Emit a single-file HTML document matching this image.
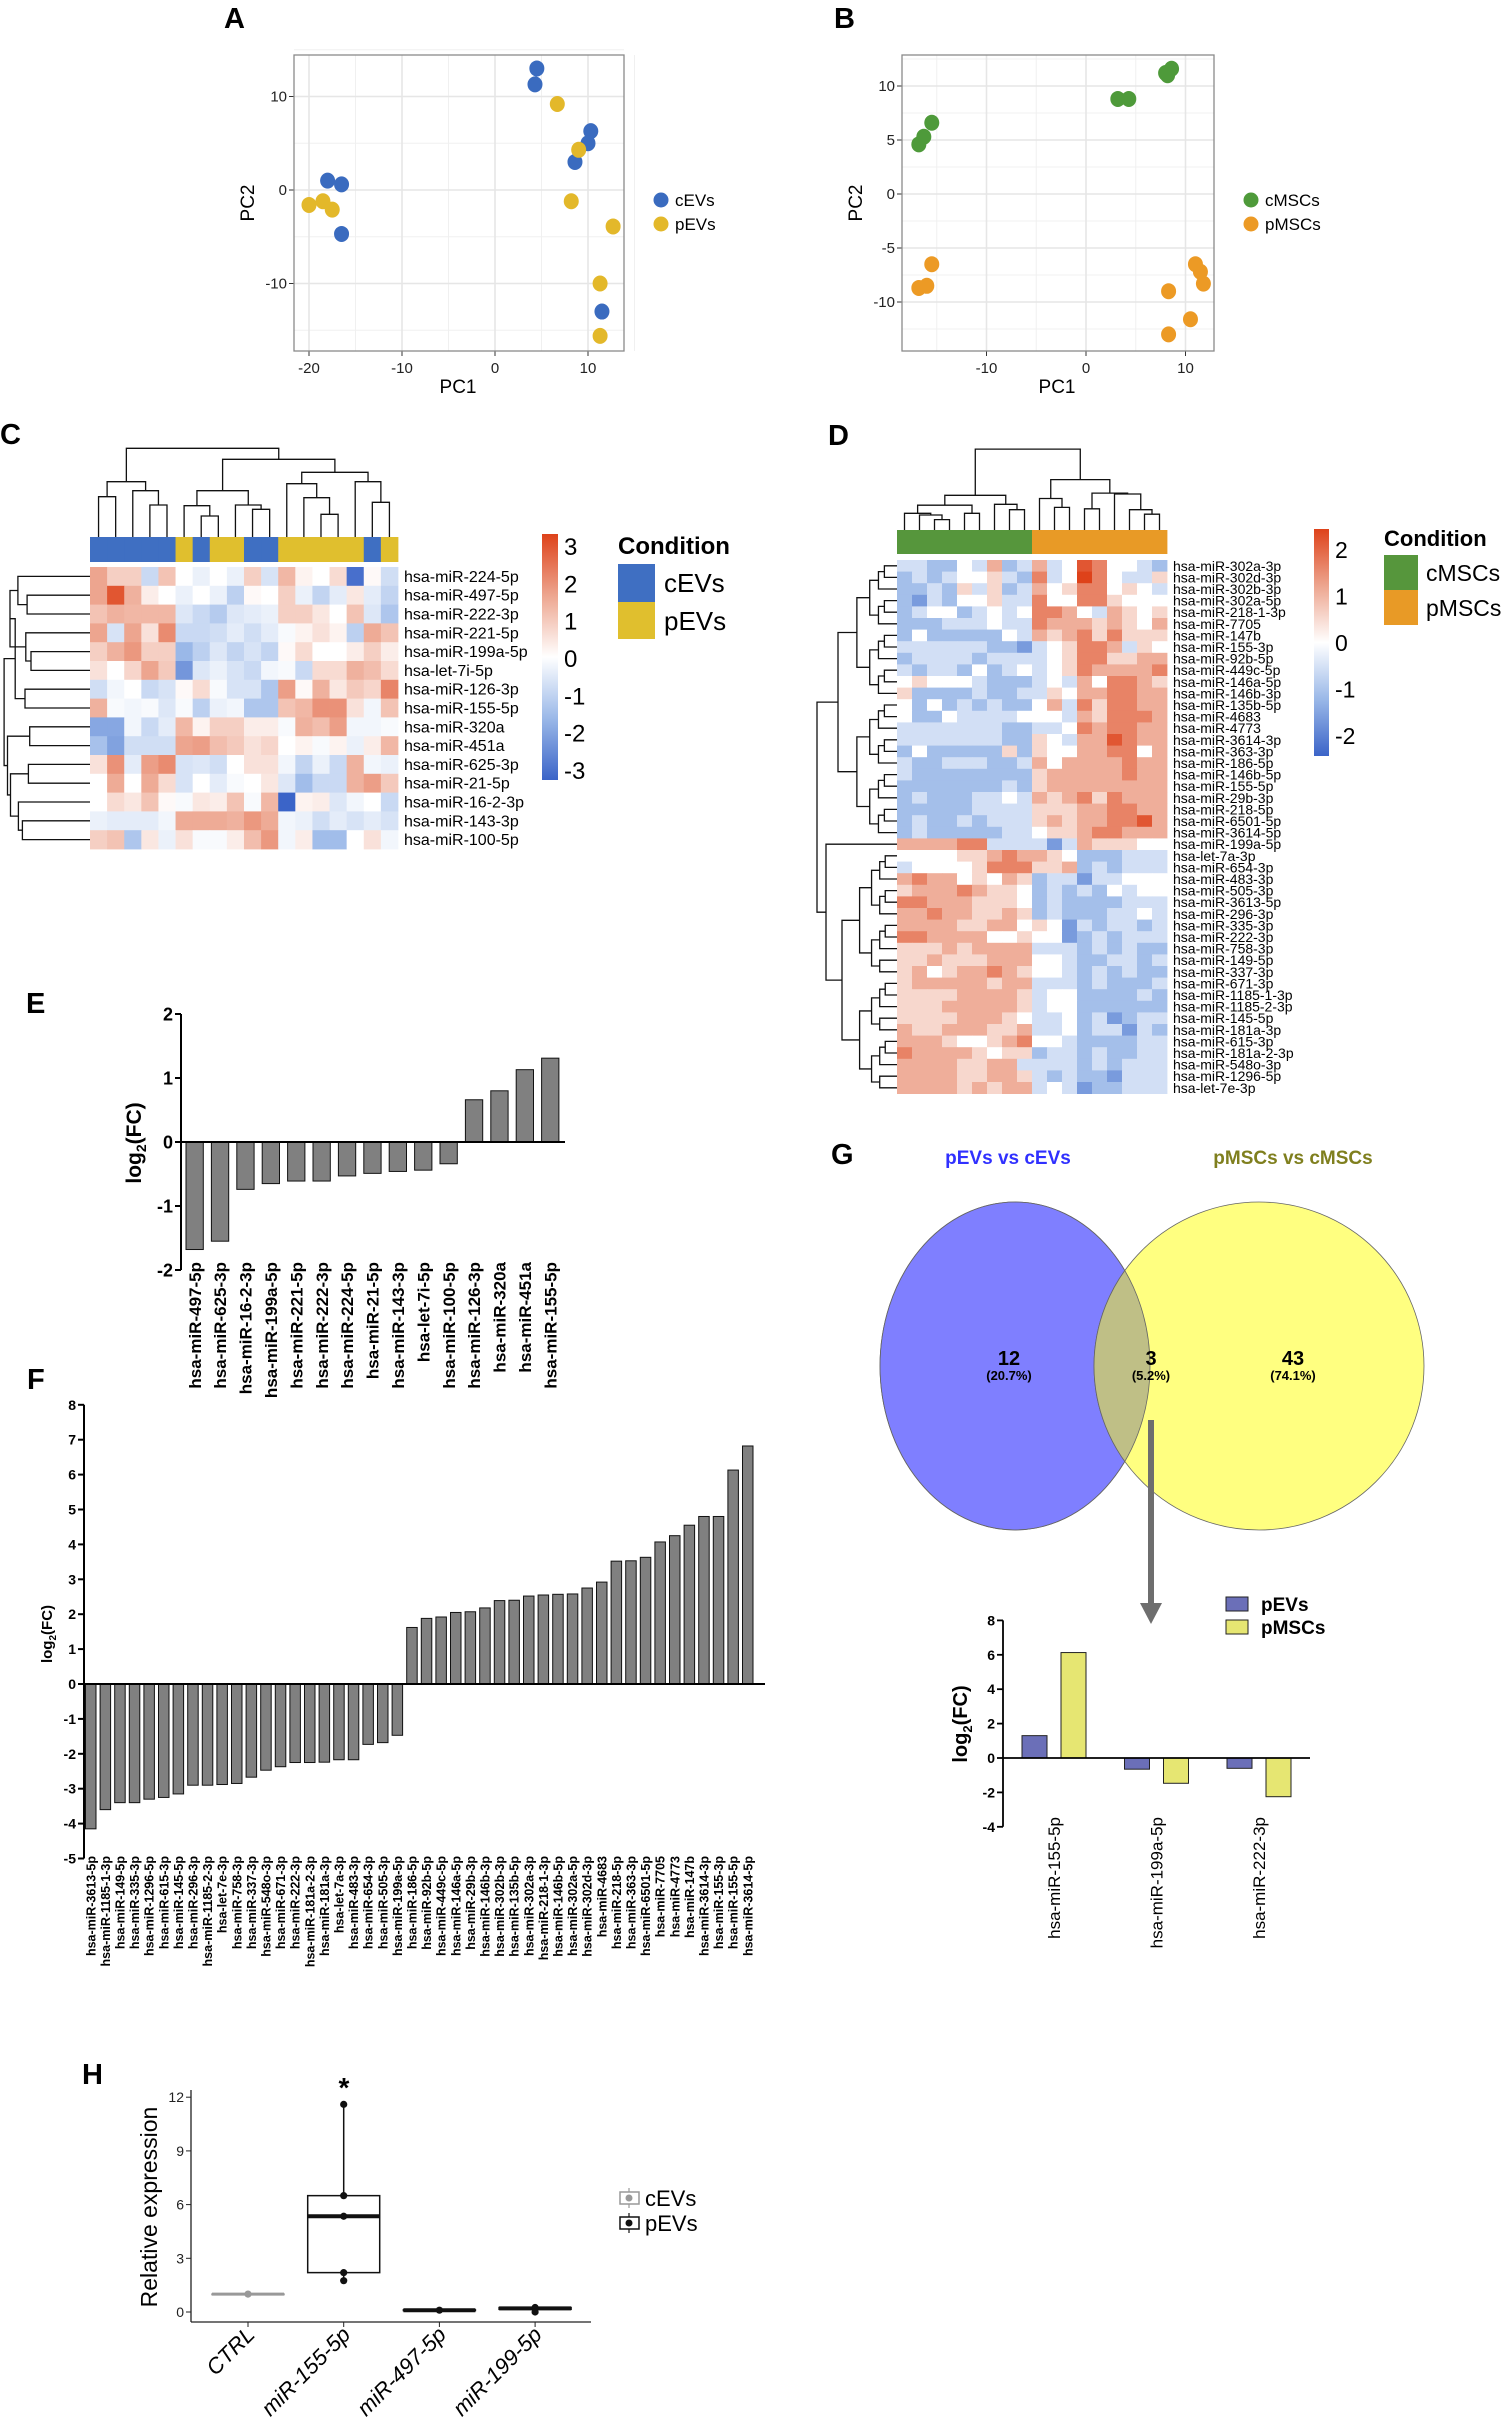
<!DOCTYPE html>
<html><head><meta charset="utf-8"><title>Figure</title>
<style>
html,body{margin:0;padding:0;background:#fff;}
svg{display:block;font-family:"Liberation Sans",Arial,sans-serif;}
.pl{font-weight:bold;font-size:29px;}
.tk{font-size:15px;fill:#222;}
.bt{font-weight:bold;}
</style></head>
<body>
<svg id="fig" width="1505" height="2431" viewBox="0 0 1505 2431" xmlns="http://www.w3.org/2000/svg">
<defs>
<linearGradient id="gradC" x1="0" y1="0" x2="0" y2="1">
<stop offset="0" stop-color="#de421a"/><stop offset="0.25" stop-color="#eda58f"/><stop offset="0.5" stop-color="#ffffff"/><stop offset="0.75" stop-color="#9ab8e8"/><stop offset="1" stop-color="#3b64c8"/>
</linearGradient>
<clipPath id="blueClip"><ellipse cx="1015" cy="1366" rx="135" ry="164"/></clipPath>
</defs>
<rect x="0" y="0" width="1505" height="2431" fill="#fff"/>

<text class="pl" x="224" y="28">A</text>
<text class="pl" x="834" y="28">B</text>
<text class="pl" x="0" y="444">C</text>
<text class="pl" x="828" y="445">D</text>
<text class="pl" x="26" y="1013">E</text>
<text class="pl" x="27" y="1389">F</text>
<text class="pl" x="831" y="1164">G</text>
<text class="pl" x="82" y="2084">H</text>

<!-- A axis titles & legend -->
<text x="458" y="393" font-size="19" text-anchor="middle">PC1</text>
<text x="0" y="0" font-size="19" text-anchor="middle" transform="translate(254,203) rotate(-90)">PC2</text>
<circle cx="661" cy="200" r="7.5" fill="#3a6bbf"/>
<text x="675" y="206" font-size="17">cEVs</text>
<circle cx="661" cy="224" r="7.5" fill="#e3b82a"/>
<text x="675" y="230" font-size="17">pEVs</text>
<!-- B -->
<text x="1057" y="393" font-size="19" text-anchor="middle">PC1</text>
<text x="0" y="0" font-size="19" text-anchor="middle" transform="translate(862,203) rotate(-90)">PC2</text>
<circle cx="1251" cy="200" r="7.5" fill="#4e9a3a"/>
<text x="1265" y="206" font-size="17">cMSCs</text>
<circle cx="1251" cy="224" r="7.5" fill="#ec9a25"/>
<text x="1265" y="230" font-size="17">pMSCs</text>

<!-- C legend -->
<rect x="542" y="534" width="16" height="246" fill="url(#gradC)"/>
<text x="618" y="554" font-size="24" font-weight="bold">Condition</text>
<rect x="618" y="564" width="37" height="38" fill="#3f6fc2"/>
<rect x="618" y="602" width="37" height="37" fill="#e0bf2e"/>
<text x="664" y="592" font-size="26">cEVs</text>
<text x="664" y="630" font-size="26">pEVs</text>
<!-- D legend -->
<rect x="1314" y="529" width="15" height="227" fill="url(#gradC)"/>
<text x="1384" y="546" font-size="22" font-weight="bold">Condition</text>
<rect x="1384" y="555" width="34" height="35" fill="#56963c"/>
<rect x="1384" y="590" width="34" height="35" fill="#e89a26"/>
<text x="1426" y="581" font-size="23">cMSCs</text>
<text x="1426" y="616" font-size="23">pMSCs</text>

<!-- E/F titles -->
<text x="0" y="0" font-size="21" font-weight="bold" text-anchor="middle" transform="translate(141,1143) rotate(-90)">log<tspan font-size="14" dy="5">2</tspan><tspan dy="-5">(FC)</tspan></text>
<text x="0" y="0" font-size="15" font-weight="bold" text-anchor="middle" transform="translate(52,1634) rotate(-90)">log<tspan font-size="10" dy="4">2</tspan><tspan dy="-4">(FC)</tspan></text>

<!-- G Venn -->
<text x="1008" y="1164" font-size="19" font-weight="bold" fill="#3030ff" text-anchor="middle">pEVs vs cEVs</text>
<text x="1293" y="1164" font-size="19" font-weight="bold" fill="#7f7f1e" text-anchor="middle">pMSCs vs cMSCs</text>
<ellipse cx="1015" cy="1366" rx="135" ry="164" fill="#7f7fff" stroke="#666" stroke-width="0.8"/>
<ellipse cx="1259" cy="1366" rx="165" ry="164" fill="#ffff80" stroke="#666" stroke-width="0.8"/>
<ellipse cx="1259" cy="1366" rx="165" ry="164" fill="#bfbf86" stroke="#666" stroke-width="0.8" clip-path="url(#blueClip)"/>
<ellipse cx="1015" cy="1366" rx="135" ry="164" fill="none" stroke="#666" stroke-width="0.8"/>
<text x="1009" y="1365" font-size="20" font-weight="bold" text-anchor="middle">12</text>
<text x="1009" y="1380" font-size="13" font-weight="bold" text-anchor="middle">(20.7%)</text>
<text x="1151" y="1365" font-size="20" font-weight="bold" text-anchor="middle">3</text>
<text x="1151" y="1380" font-size="13" font-weight="bold" text-anchor="middle">(5.2%)</text>
<text x="1293" y="1365" font-size="20" font-weight="bold" text-anchor="middle">43</text>
<text x="1293" y="1380" font-size="13" font-weight="bold" text-anchor="middle">(74.1%)</text>
<line x1="1151" y1="1420" x2="1151" y2="1606" stroke="#6e6e6e" stroke-width="6"/>
<polygon points="1140,1603 1162,1603 1151,1624" fill="#6e6e6e"/>
<rect x="1226" y="1597" width="22" height="14" fill="#6b6fb8" stroke="#222" stroke-width="1"/>
<rect x="1226" y="1620" width="22" height="14" fill="#e6e672" stroke="#222" stroke-width="1"/>
<text x="1261" y="1611" font-size="19" font-weight="bold">pEVs</text>
<text x="1261" y="1634" font-size="19" font-weight="bold">pMSCs</text>
<text x="0" y="0" font-size="20" font-weight="bold" text-anchor="middle" transform="translate(967,1724) rotate(-90)">log<tspan font-size="13" dy="5">2</tspan><tspan dy="-5">(FC)</tspan></text>

<!-- H -->
<text x="0" y="0" font-size="23" text-anchor="middle" transform="translate(157,2207) rotate(-90)">Relative expression</text>
<text x="344" y="2097" font-size="28" font-weight="bold" text-anchor="middle">*</text>
<g>
<line x1="629" y1="2188" x2="629" y2="2208" stroke="#999" stroke-width="1.2"/>
<rect x="620" y="2192" width="19" height="12" fill="#fff" stroke="#999" stroke-width="1.5"/>
<circle cx="629" cy="2198" r="3.5" fill="#999"/>
</g>
<g>
<line x1="629" y1="2213" x2="629" y2="2233" stroke="#111" stroke-width="1.2"/>
<rect x="620" y="2217" width="19" height="12" fill="#fff" stroke="#111" stroke-width="1.5"/>
<circle cx="629" cy="2223" r="3.5" fill="#111"/>
</g>
<text x="645" y="2206" font-size="22">cEVs</text>
<text x="645" y="2231" font-size="22">pEVs</text>
</svg>

<script>
// ---------- DATA ----------
// Panel A
const aXTicks=[-20,-10,0,10];
const aYTicks=[-10,0,10];
const cEVsX=[4.5,4.3,10.3,10.0,8.6,-18.0,-16.5,-16.5,11.5];
const cEVsY=[13.0,11.3,6.3,5.0,3.0,1.0,0.6,-4.7,-13.0];
const pEVsX=[6.7,9.0,8.2,12.7,-20.0,-18.5,-17.5,11.3,11.3];
const pEVsY=[9.2,4.3,-1.2,-3.9,-1.6,-1.2,-2.1,-10.0,-15.6];
// Panel B
const bXTicks=[-10,0,10];
const bYTicks=[-10,-5,0,5,10];
const cMSCsX=[8.0,8.6,8.2,3.2,4.3,-15.5,-16.3,-16.8];
const cMSCsY=[11.2,11.6,11.0,8.8,8.8,6.6,5.3,4.6];
const pMSCsX=[-15.5,-16.8,-16.0,11.0,11.5,11.8,8.3,10.5,8.3];
const pMSCsY=[-6.5,-8.7,-8.5,-6.5,-7.2,-8.3,-9.0,-11.6,-13.0];
// Panel C heatmap
const cRows=["hsa-miR-224-5p","hsa-miR-497-5p","hsa-miR-222-3p","hsa-miR-221-5p","hsa-miR-199a-5p","hsa-let-7i-5p","hsa-miR-126-3p","hsa-miR-155-5p","hsa-miR-320a","hsa-miR-451a","hsa-miR-625-3p","hsa-miR-21-5p","hsa-miR-16-2-3p","hsa-miR-143-3p","hsa-miR-100-5p"];
const cCond=["c","c","c","c","c","p","c","p","p","c","c","p","p","p","p","p","c","p"];
const cMatrix=[
[1.5,0.8,0.8,-0.8,1,0,-0.3,0,-0.3,0.8,-0.6,1.2,0.2,0,0.6,-2.8,0.1,-0.7],
[1.5,2.7,1.3,0.3,0,-0.3,0,-0.3,-1,0.1,0,0.8,-0.3,-0.9,-0.4,0.4,-0.4,-0.9],
[1,1.3,1.2,1.2,1.2,-0.5,-0.8,-1.1,-0.5,-0.4,-0.3,0.8,0.8,0.4,0,1,-0.5,-1.2],
[1.5,-0.6,1.5,0.5,1.9,-0.8,-0.8,-0.7,-0.4,-0.7,-0.4,-0.1,0.2,0.5,0.2,-1,1.4,1],
[0.8,1.3,1.7,0.8,0.8,-1.5,-1,-0.5,-0.9,-0.6,-0.9,0.1,0.6,0,0,0.3,0.8,0.3],
[0.5,0,0.7,1.5,0.9,-2.1,-0.5,-0.3,-0.6,-0.8,-0.2,-0.1,-0.8,0.6,0.6,1.3,1.1,0.6],
[-0.7,-0.2,0,-0.8,-0.6,0.1,0.6,-0.1,-0.6,-0.6,-1.2,1.6,0.1,1.3,0.4,0.9,0.7,2],
[1.3,-0.1,-0.2,-0.1,-0.5,-0.1,-1,-0.3,-0.2,-1.2,-1.2,1,1.2,1.8,1.8,0.5,-0.2,1],
[-1.8,-1.8,-0.2,-0.8,-0.4,1.2,0.2,0.8,0.8,0.3,0.3,-0.1,1.3,1.1,1.6,-0.2,-0.2,-0.1],
[-1.3,-1.9,-0.7,-0.7,-0.7,1.5,1.6,1.1,0.9,0.5,0.7,0,0.2,-0.1,0.2,-0.3,0.3,1.2],
[0.5,1.8,-0.4,1.6,1.9,-0.6,-0.5,-0.7,0,0.5,0.5,-0.2,-0.9,-0.3,-0.8,1.3,-0.2,-0.3],
[0,1.4,0,1.4,0.6,-0.6,0,-0.4,-0.1,0,0.4,-0.5,-1.4,-0.8,-0.8,1.3,1.6,0.9],
[0,0.6,0.4,1,0.1,-0.1,0.4,0.3,1,-0.1,1.2,-3,0.2,0.3,-0.5,-0.2,0,-0.8],
[-0.3,-0.4,-0.4,-0.4,-0.2,1.4,1.4,1.4,1.3,1.7,1.4,-0.2,-0.3,-0.7,-0.4,-0.6,-0.4,-0.6],
[0.8,1,-1.2,0.4,-0.3,0.5,-0.1,-0.1,0.3,1.1,1.7,-0.2,0.3,-1.4,-1.4,0,0.5,-0.2]];
const cScaleTicks=[3,2,1,0,-1,-2,-3];
// Panel D heatmap (codes 0..9, 4 = 0, step 0.55)
const dRows=["hsa-miR-302a-3p","hsa-miR-302d-3p","hsa-miR-302b-3p","hsa-miR-302a-5p","hsa-miR-218-1-3p","hsa-miR-7705","hsa-miR-147b","hsa-miR-155-3p","hsa-miR-92b-5p","hsa-miR-449c-5p","hsa-miR-146a-5p","hsa-miR-146b-3p","hsa-miR-135b-5p","hsa-miR-4683","hsa-miR-4773","hsa-miR-3614-3p","hsa-miR-363-3p","hsa-miR-186-5p","hsa-miR-146b-5p","hsa-miR-155-5p","hsa-miR-29b-3p","hsa-miR-218-5p","hsa-miR-6501-5p","hsa-miR-3614-5p","hsa-miR-199a-5p","hsa-let-7a-3p","hsa-miR-654-3p","hsa-miR-483-3p","hsa-miR-505-3p","hsa-miR-3613-5p","hsa-miR-296-3p","hsa-miR-335-3p","hsa-miR-222-3p","hsa-miR-758-3p","hsa-miR-149-5p","hsa-miR-337-3p","hsa-miR-671-3p","hsa-miR-1185-1-3p","hsa-miR-1185-2-3p","hsa-miR-145-5p","hsa-miR-181a-3p","hsa-miR-615-3p","hsa-miR-181a-2-3p","hsa-miR-548o-3p","hsa-miR-1296-5p","hsa-let-7e-3p"];
const dCodes=["332243623634874432","232344532734974335","223253523645774543","213244533744775444","234423434776436545","222333433766656546","242222243656757555","333333221345776354","233332333345775566","323324234345766667","454443222343647765","522223223354667766","424232322463757766","422433334443657776","333333322334767766","333333322543668766","242222252544667746","322333223646666766","322222222566666766","222222232566666666","232223343656757666","222223333555667766","232232333565667786","232222233455677666","666677333313655544","444455676654222333","344445777556232333","676645465233133444","566676554232324344","776665554232222333","667665565232223343","666655664541323323","776666445441232333","555656666333232322","556555666443223323","564566765443232322","566666566333232223","555566665344222232","555666665344222222","555566654334231233","655666556334233132","666544567443222233","766665455233232233","666655663333232333","666655665323221333","666656566343122333"];
const dScaleTicks=[2,1,0,-1,-2];
// Panel E
const eCats=["hsa-miR-497-5p","hsa-miR-625-3p","hsa-miR-16-2-3p","hsa-miR-199a-5p","hsa-miR-221-5p","hsa-miR-222-3p","hsa-miR-224-5p","hsa-miR-21-5p","hsa-miR-143-3p","hsa-let-7i-5p","hsa-miR-100-5p","hsa-miR-126-3p","hsa-miR-320a","hsa-miR-451a","hsa-miR-155-5p"];
const eVals=[-1.68,-1.55,-0.74,-0.65,-0.61,-0.61,-0.53,-0.49,-0.46,-0.44,-0.34,0.66,0.80,1.13,1.31];
const eTicks=[-2,-1,0,1,2];
// Panel F
const fCats=["hsa-miR-3613-5p","hsa-miR-1185-1-3p","hsa-miR-149-5p","hsa-miR-335-3p","hsa-miR-1296-5p","hsa-miR-615-3p","hsa-miR-145-5p","hsa-miR-296-3p","hsa-miR-1185-2-3p","hsa-let-7e-3p","hsa-miR-758-3p","hsa-miR-337-3p","hsa-miR-548o-3p","hsa-miR-671-3p","hsa-miR-222-3p","hsa-miR-181a-2-3p","hsa-miR-181a-3p","hsa-let-7a-3p","hsa-miR-483-3p","hsa-miR-654-3p","hsa-miR-505-3p","hsa-miR-199a-5p","hsa-miR-186-5p","hsa-miR-92b-5p","hsa-miR-449c-5p","hsa-miR-146a-5p","hsa-miR-29b-3p","hsa-miR-146b-3p","hsa-miR-302b-3p","hsa-miR-135b-5p","hsa-miR-302a-3p","hsa-miR-218-1-3p","hsa-miR-146b-5p","hsa-miR-302a-5p","hsa-miR-302d-3p","hsa-miR-4683","hsa-miR-218-5p","hsa-miR-363-3p","hsa-miR-6501-5p","hsa-miR-7705","hsa-miR-4773","hsa-miR-147b","hsa-miR-3614-3p","hsa-miR-155-3p","hsa-miR-155-5p","hsa-miR-3614-5p"];
const fVals=[-4.15,-3.6,-3.4,-3.4,-3.3,-3.25,-3.15,-2.9,-2.9,-2.88,-2.85,-2.67,-2.47,-2.37,-2.25,-2.25,-2.24,-2.17,-2.17,-1.73,-1.68,-1.47,1.62,1.88,1.92,2.05,2.07,2.18,2.39,2.4,2.52,2.55,2.57,2.58,2.75,2.92,3.52,3.53,3.63,4.07,4.25,4.55,4.8,4.8,6.13,6.82];
const fTicks=[-5,-4,-3,-2,-1,0,1,2,3,4,5,6,7,8];
// Panel G
const gCats=["hsa-miR-155-5p","hsa-miR-199a-5p","hsa-miR-222-3p"];
const gPEVs=[1.3,-0.65,-0.6];
const gPMSCs=[6.13,-1.47,-2.25];
const gTicks=[-4,-2,0,2,4,6,8];
// Panel H
const hCats=["CTRL","miR-155-5p","miR-497-5p","miR-199-5p"];
const hMedian=[1,5.35,0.1,0.2];
const hQ1=[1,2.2,0.08,0.15];
const hQ3=[1,6.5,0.12,0.25];
const hMin=[1,1.75,0.08,0];
const hMax=[1,11.6,0.12,0.25];
const hPoints=[[1],[11.6,6.5,5.35,2.2,1.75],[0.1],[0.25,0.2,0]];
const hTicks=[0,3,6,9,12];

// ---------- HELPERS ----------
const NS='http://www.w3.org/2000/svg';
const svg=document.getElementById('fig');
function mk(tag,attrs,parent){const e=document.createElementNS(NS,tag);for(const k in attrs)e.setAttribute(k,attrs[k]);(parent||svg).appendChild(e);return e;}
function lerp(a,b,t){return a+(b-a)*t;}
const stops=[[-1,[59,100,200]],[-0.5,[154,184,232]],[0,[255,255,255]],[0.5,[237,165,143]],[1,[222,66,26]]];
function heatColor(t){t=Math.max(-1,Math.min(1,t));for(let i=0;i<stops.length-1;i++){const a=stops[i],b=stops[i+1];if(t<=b[0]){const u=(t-a[0])/(b[0]-a[0]);return 'rgb('+a[1].map((c,k)=>Math.round(lerp(c,b[1][k],u))).join(',')+')';}}return 'rgb(222,66,26)';}

// dendrogram drawing: vertical (columns) or horizontal (rows)
function drawDendro(node,leafPos,base,horizontal,g){
  if(typeof node==='number') return {p:leafPos(node),h:base};
  const L=drawDendro(node[0],leafPos,base,horizontal,g);
  const R=drawDendro(node[1],leafPos,base,horizontal,g);
  const h=node[2];
  const d=horizontal?`M${L.h},${L.p}H${h}V${R.p}H${R.h}`:`M${L.p},${L.h}V${h}H${R.p}V${R.h}`;
  mk('path',{d:d,fill:'none',stroke:'#111','stroke-width':1.3},g);
  return {p:(L.p+R.p)/2,h:h};
}

// ---------- PANEL A / B scatter ----------
function scatterPanel(opt){
  const g=mk('g',{});
  
  
  const {x0,x1,y0,y1,sx,sy}=opt;
  // minor grid
  opt.xMinor.forEach(v=>{const gl=mk('line',{x1:sx(v),x2:sx(v),y1:y0,y2:y1,stroke:'#f0f0f0','stroke-width':1},g);});
  opt.yMinor.forEach(v=>{const gl=mk('line',{x1:x0,x2:x1,y1:sy(v),y2:sy(v),stroke:'#f0f0f0','stroke-width':1},g);});
  opt.xTicks.forEach(v=>{
    const gl=mk('line',{x1:sx(v),x2:sx(v),y1:y0,y2:y1,stroke:'#e6e6e6','stroke-width':1.6},g);
    
    
    const tk=mk('line',{x1:sx(v),x2:sx(v),y1:y1,y2:y1+5,stroke:'#333','stroke-width':1},g);
    
    
    const t=mk('text',{x:sx(v),y:y1+22,'text-anchor':'middle',class:'tk'},g);
    t.textContent=v;
    
    
  });
  opt.yTicks.forEach(v=>{
    const gl=mk('line',{x1:x0,x2:x1,y1:sy(v),y2:sy(v),stroke:'#e6e6e6','stroke-width':1.6},g);
    
    
    const tk=mk('line',{x1:x0-5,x2:x0,y1:sy(v),y2:sy(v),stroke:'#333','stroke-width':1},g);
    
    
    const t=mk('text',{x:x0-7,y:sy(v)+5,'text-anchor':'end',class:'tk'},g);
    t.textContent=v;
    
    
  });
  const box=mk('rect',{x:x0,y:y0,width:x1-x0,height:y1-y0,fill:'none',stroke:'#8a8a8a','stroke-width':1.3},g);
  
  
  opt.series.forEach(s=>{
    s.xs.forEach((xv,i)=>{
      const c=mk('ellipse',{cx:sx(xv),cy:sy(s.ys[i]),rx:7.5,ry:8,fill:s.color},g);
      
      
    });
  });
}
scatterPanel({name:'panel-a-pca',x0:294,x1:624,y0:55,y1:351,sx:v=>495+v*9.3,sy:v=>190-v*9.35,
  xTicks:aXTicks,yTicks:aYTicks,xMinor:[-15,-5,5,15],yMinor:[-15,-5,5,15].filter(v=>v>-16.5),
  series:[{name:'cevs',xs:cEVsX,ys:cEVsY,color:'#3a6bbf'},{name:'pevs',xs:pEVsX,ys:pEVsY,color:'#e3b82a'}]});
scatterPanel({name:'panel-b-pca',x0:902,x1:1214,y0:55,y1:351,sx:v=>1086+v*9.95,sy:v=>194-v*10.8,
  xTicks:bXTicks,yTicks:bYTicks,xMinor:[-15,-5,5],yMinor:[-12.5,-7.5,-2.5,2.5,7.5,12.5].filter(v=>v<13.5),
  series:[{name:'cmscs',xs:cMSCsX,ys:cMSCsY,color:'#4e9a3a'},{name:'pmscs',xs:pMSCsX,ys:pMSCsY,color:'#ec9a25'}]});

// ---------- PANEL C heatmap ----------
(function(){
  const g=mk('g',{});
  
  
  const X0=90,CW=17.11,Y0=567,RH=18.8;
  cMatrix.forEach((row,i)=>{
    row.forEach((v,j)=>{
      const r=mk('rect',{x:X0+j*CW,y:Y0+i*RH,width:CW+0.4,height:RH+0.4,fill:heatColor(v/3)},g);
      
      
    });
    const t=mk('text',{x:404,y:Y0+i*RH+RH/2+5.5,'font-size':16},g);
    t.textContent=cRows[i];
    
    
  });
  cCond.forEach((c,j)=>{
    const r=mk('rect',{x:X0+j*CW,y:537,width:CW+0.4,height:25,fill:c==='c'?'#3f6fc2':'#e0bf2e'},g);
    
    
  });
  cScaleTicks.forEach(v=>{
    const t=mk('text',{x:564,y:658-v*37.3+9,'font-size':24},g);
    t.textContent=v;
    
    
  });
  // column dendrogram
  const a=[0,1,496.7],b=[3,4,505],c=[2,b,490.7],d=[a,c,481.7],e=[6,7,516],f=[5,e,505.7],gg=[9,10,509.3],h=[8,gg,505],ii=[f,h,490.7],jj=[13,14,514.3],k=[12,jj,497.7],l=[11,k,483.7],m=[16,17,502.3],n=[15,m,481.7],o=[l,n,472.3],p=[ii,o,459.3];
  const colTree=[d,p,448.3];
  const dg=mk('g',{},g);
  
  
  drawDendro(colTree,j=>X0+(j+0.5)*CW,537,false,dg);
  const r23=[1,2,27.1],r123=[0,r23,17.9],r56=[4,5,31],r456=[3,r56,25.8],rA=[r123,r456,10],r78=[6,7,25],rB=[rA,r78,15.2],r910=[8,9,29.7],r1112=[10,11,28.4],r1415=[13,14,22.4],r131415=[12,r1415,18.4],rC=[r1112,r131415,10.5],rD=[r910,rC,7.5],rowTree=[rB,rD,4.1];
  const rg=mk('g',{},g);
  
  
  drawDendro(rowTree,i=>Y0+(i+0.5)*RH,90,true,rg);
})();

// ---------- PANEL D heatmap ----------
(function(){
  const g=mk('g',{});
  
  
  const X0=897,CW=15,Y0=560,RH=11.6;
  dCodes.forEach((row,i)=>{
    for(let j=0;j<18;j++){
      const v=(parseInt(row[j])-4)*0.55;
      const r=mk('rect',{x:X0+j*CW,y:Y0+i*RH,width:CW+0.4,height:RH+0.4,fill:heatColor(v/2.45)},g);
      
      
    }
    const t=mk('text',{x:1173,y:Y0+i*RH+RH/2+5,'font-size':14},g);
    t.textContent=dRows[i];
    
    
  });
  for(let j=0;j<18;j++){
    const r=mk('rect',{x:X0+j*CW,y:530,width:CW+0.4,height:24,fill:j<9?'#56963c':'#e89a26'},g);
    
    
  }
  dScaleTicks.forEach(v=>{
    const t=mk('text',{x:1335,y:643-v*46.5+8,'font-size':23},g);
    t.textContent=v;
    
    
  });
  const c23=[2,3,519.6],c123=[1,c23,515],c0=[0,c123,513.3],c45=[4,5,513.3],cL=[c0,c45,505.2],c78=[7,8,509.7],c678=[6,c78,504.3],cM=[cL,c678,495.3];
  const p1011=[10,11,507.4],p9=[9,p1011,498.5],p1213=[12,13,508.8],p1617=[16,17,514.2],p15=[15,p1617,509.7],p14=[14,p15,494],pR=[p1213,p14,493.1],pM=[p9,pR,479.6];
  const colTree=[cM,pM,449.1];
  const dg=mk('g',{},g);
  
  
  drawDendro(colTree,j=>X0+(j+0.5)*CW,530,false,dg);
  function bt(lo,hi,x){if(lo===hi)return lo;const mid=Math.floor((lo+hi)/2);const nx=x+(897-x)*0.32;return [bt(lo,mid,nx),bt(mid+1,hi,nx),x];}
  const rowTree=[bt(0,23,838),[24,bt(25,45,842),826],817];
  const rg=mk('g',{},g);
  
  
  drawDendro(rowTree,i=>Y0+(i+0.5)*RH,897,true,rg);
})();

// ---------- Bar chart helper ----------
function barChart(o){
  const g=mk('g',{});
  
  
  o.vals.forEach((v,i)=>{
    const x=o.x0+i*o.step;
    const r=mk('rect',{x:x,y:Math.min(o.sy(v),o.sy(0)),width:o.bw,height:Math.abs(o.sy(v)-o.sy(0)),fill:'#808080',stroke:'#111','stroke-width':1},g);
    
    
    const cx=x+o.bw/2;
    const t=mk('text',{x:0,y:0,'text-anchor':'end','font-size':o.lfs,'font-weight':'bold',transform:`translate(${cx+o.lfs*0.36},${o.labTop}) rotate(-90)`},g);
    t.textContent=o.cats[i];
    
    
  });
  const ya=mk('line',{x1:o.ax,x2:o.ax,y1:o.sy(o.ticks[o.ticks.length-1]),y2:o.sy(o.ticks[0]),stroke:'#000','stroke-width':2},g);
  
  
  const za=mk('line',{x1:o.ax,x2:o.zx,y1:o.sy(0),y2:o.sy(0),stroke:'#000','stroke-width':2},g);
  
  
  o.ticks.forEach(v=>{
    const tk=mk('line',{x1:o.ax-6,x2:o.ax,y1:o.sy(v),y2:o.sy(v),stroke:'#000','stroke-width':2},g);
    
    
    const t=mk('text',{x:o.ax-8,y:o.sy(v)+o.tfs*0.36,'text-anchor':'end','font-size':o.tfs,'font-weight':'bold'},g);
    t.textContent=v;
    
    
  });
}
barChart({name:'panel-e-bars',cats:eCats,vals:eVals,ticks:eTicks,sy:v=>1142-v*64,x0:186,step:25.4,bw:17.3,ax:181,zx:565,labTop:1262,lfs:17,tfs:18});
barChart({name:'panel-f-bars',cats:fCats,vals:fVals,ticks:fTicks,sy:v=>1684-v*34.9,x0:85.5,step:14.6,bw:10.5,ax:84,zx:765,labTop:1856,lfs:12.5,tfs:14});

// ---------- PANEL G grouped bars ----------
(function(){
  const g=mk('g',{});
  
  
  const sy=v=>1758-v*17.2;
  gCats.forEach((c,i)=>{
    const b1=mk('rect',{x:1022+i*102.5,y:Math.min(sy(gPEVs[i]),sy(0)),width:25,height:Math.abs(sy(gPEVs[i])-sy(0)),fill:'#6b6fb8',stroke:'#222','stroke-width':1},g);
    
    
    const b2=mk('rect',{x:1061+i*102.5,y:Math.min(sy(gPMSCs[i]),sy(0)),width:25,height:Math.abs(sy(gPMSCs[i])-sy(0)),fill:'#e6e672',stroke:'#222','stroke-width':1},g);
    
    
    const cx=1054+i*102.5;
    const t=mk('text',{x:0,y:0,'text-anchor':'end','font-size':17,transform:`translate(${cx+6},1817) rotate(-90)`},g);
    t.textContent=c;
    
    
  });
  const ya=mk('line',{x1:1003,x2:1003,y1:sy(8),y2:sy(-4),stroke:'#000','stroke-width':1.8},g);
  
  
  const za=mk('line',{x1:1003,x2:1310,y1:sy(0),y2:sy(0),stroke:'#000','stroke-width':1.8},g);
  
  
  gTicks.forEach(v=>{
    const tk=mk('line',{x1:997,x2:1003,y1:sy(v),y2:sy(v),stroke:'#000','stroke-width':1.8},g);
    
    
    const t=mk('text',{x:995,y:sy(v)+5,'text-anchor':'end','font-size':14,'font-weight':'bold'},g);
    t.textContent=v;
    
    
  });
})();

// ---------- PANEL H box plot ----------
(function(){
  const g=mk('g',{});
  
  
  const sy=v=>2312-v*17.9, sx=i=>248+i*95.7;
  hCats.forEach((c,i)=>{
    const col=i===0?'#999':'#111';
    const x=sx(i), hw=36;
    const wh=mk('line',{x1:x,x2:x,y1:sy(hMax[i]),y2:sy(hMin[i]),stroke:col,'stroke-width':1.5},g);
    
    
    const bx=mk('rect',{x:x-hw,y:sy(hQ3[i]),width:hw*2,height:Math.max(0.5,sy(hQ1[i])-sy(hQ3[i])),fill:'#fff',stroke:col,'stroke-width':1.5},g);
    
    
    const md=mk('line',{x1:x-hw,x2:x+hw,y1:sy(hMedian[i]),y2:sy(hMedian[i]),stroke:col,'stroke-width':i===0?3:4},g);
    
    
    hPoints[i].forEach(v=>{
      const p=mk('circle',{cx:x,cy:sy(v),r:3.6,fill:col},g);
      
      
    });
    const tk=mk('line',{x1:x,x2:x,y1:2322,y2:2327,stroke:'#222','stroke-width':1},g);
    
    
    const t=mk('text',{x:0,y:0,'text-anchor':'end','font-size':22,'font-style':'italic',transform:`translate(${x+8},2336) rotate(-45)`},g);
    t.textContent=c;
    
    
  });
  const ya=mk('line',{x1:191,x2:191,y1:2090,y2:2322,stroke:'#222','stroke-width':1.3},g);
  
  
  const xa=mk('line',{x1:191,x2:591,y1:2322,y2:2322,stroke:'#222','stroke-width':1.3},g);
  
  
  hTicks.forEach(v=>{
    const tk=mk('line',{x1:186,x2:191,y1:sy(v),y2:sy(v),stroke:'#222','stroke-width':1},g);
    
    
    const t=mk('text',{x:184,y:sy(v)+5,'text-anchor':'end','font-size':14,fill:'#222'},g);
    t.textContent=v;
    
    
  });
})();
</script>
</body></html>
